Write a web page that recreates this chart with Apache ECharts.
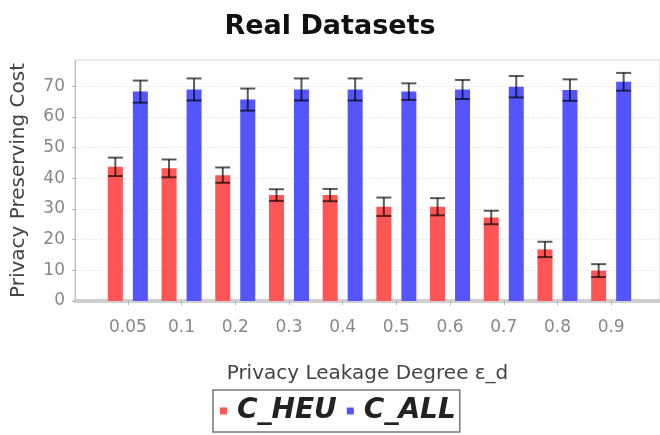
<!DOCTYPE html>
<html>

<head>
    <title>Real Datasets</title>
    <meta http-equiv="content-type" content="text/html; charset=utf-8">
    <script src="https://cdn.jsdelivr.net/npm/echarts@6/dist/echarts.min.js"></script>
    <style type="text/css">
        body { margin: 0; background: #fff; }
        #main { width: 660px; height: 435px; }
    </style>
</head>

<body>
    <div id="main"></div>
    <script type="text/javascript">
        // privacy leakage degree
        var categories = ['0.05', '0.1', '0.2', '0.3', '0.4', '0.5', '0.6', '0.7', '0.8', '0.9'];
        var yTicks = [0, 10, 20, 30, 40, 50, 60, 70];
        // C_HEU mean / error
        var heuMean = [43.7, 43.2, 41.0, 34.5, 34.5, 30.7, 30.7, 27.2, 16.8, 9.9];
        var heuErr = [3.0, 2.9, 2.5, 1.9, 2.0, 3.0, 2.8, 2.2, 2.5, 2.1];
        // C_ALL mean / error
        var allMean = [68.2, 68.9, 65.6, 68.9, 68.9, 68.2, 68.9, 69.8, 68.7, 71.4];
        var allErr = [3.6, 3.6, 3.6, 3.6, 3.6, 2.7, 3.1, 3.5, 3.5, 2.9];

        var font = 'DejaVu Sans';
        var barW = 15, gapPx = 10;
        var yMax = 78.5;

        function errData(mean, err) {
            return mean.map(function (m, i) { return [i, m, err[i]]; });
        }

        // 误差线
        function errorBar(shift) {
            return function (params, api) {
                var i = api.value(0);
                var hi = api.coord([i, api.value(1) + api.value(2)]);
                var lo = api.coord([i, api.value(1) - api.value(2)]);
                var x = hi[0] + shift;
                var half = barW / 2;
                var style = { stroke: 'rgba(0,0,0,0.65)', lineWidth: 2 };
                return {
                    type: 'group',
                    children: [
                        { type: 'line', shape: { x1: x, y1: hi[1], x2: x, y2: lo[1] }, style: style },
                        { type: 'line', shape: { x1: x - half, y1: hi[1], x2: x + half, y2: hi[1] }, style: style },
                        { type: 'line', shape: { x1: x - half, y1: lo[1], x2: x + half, y2: lo[1] }, style: style }
                    ]
                };
            };
        }

        var chart = echarts.init(document.getElementById('main'));

        var option = {
            backgroundColor: '#fff',
            animation: false,
            title: {
                text: 'Real Datasets',
                left: 'center',
                top: 8,
                textStyle: { fontFamily: font, fontSize: 27, fontWeight: 'bold', color: '#111' }
            },
            legend: {
                data: ['C_HEU', 'C_ALL'],
                left: 213,
                top: 390,
                icon: 'rect',
                itemWidth: 7,
                itemHeight: 7,
                itemGap: 10,
                borderColor: '#777',
                borderWidth: 1.5,
                padding: [7, 4, 7, 7],
                textStyle: {
                    fontFamily: font, fontSize: 28, fontWeight: 'bold', fontStyle: 'italic',
                    color: '#222', padding: [0, 0, 0, 5]
                }
            },
            grid: [
                // plot frame
                { left: 75, right: 0, top: 60, bottom: 134, show: true, borderColor: '#cfcfcf', borderWidth: 1, backgroundColor: '#fff' },
                // bars
                { left: 101, right: 22, top: 60, bottom: 134 }
            ],
            xAxis: [
                {
                    gridIndex: 0, type: 'value', min: 0, max: 1,
                    axisLine: { show: true, lineStyle: { color: '#cfcfcf', width: 4 } },
                    axisTick: { show: false }, axisLabel: { show: false }, splitLine: { show: false },
                    name: 'Privacy Leakage Degree \u03b5_d',
                    nameLocation: 'middle',
                    nameGap: 63,
                    nameTextStyle: { fontFamily: font, fontSize: 20, color: '#444' }
                },
                {
                    gridIndex: 1, type: 'category', data: categories,
                    axisLine: { show: false },
                    axisTick: { show: true, alignWithLabel: true, length: 4, lineStyle: { color: '#a8b8a8' } },
                    axisLabel: { margin: 18, fontFamily: font, fontSize: 17, color: '#888' }
                }
            ],
            yAxis: [
                {
                    gridIndex: 0, type: 'value', min: 0, max: yMax, interval: 10,
                    axisLine: { show: true, lineStyle: { color: '#bbb' } },
                    axisTick: { show: true, length: 3, lineStyle: { color: '#bbb' } },
                    axisLabel: {
                        margin: 10, fontFamily: font, fontSize: 17, color: '#888', showMaxLabel: false,
                        formatter: function (v) { return yTicks.indexOf(v) >= 0 ? String(v) : ''; }
                    },
                    splitLine: { show: true, lineStyle: { color: '#ececec', type: 'dashed' } },
                    name: 'Privacy Preserving Cost',
                    nameLocation: 'middle',
                    nameGap: 46,
                    nameTextStyle: { fontFamily: font, fontSize: 20, color: '#444' }
                },
                { gridIndex: 1, type: 'value', min: 0, max: yMax, show: false }
            ],
            series: [
                {
                    name: 'C_HEU', type: 'bar', xAxisIndex: 1, yAxisIndex: 1,
                    barWidth: barW, barGap: (gapPx / barW * 100) + '%',
                    itemStyle: { color: '#ff5555' },
                    data: heuMean
                },
                {
                    name: 'C_ALL', type: 'bar', xAxisIndex: 1, yAxisIndex: 1,
                    barWidth: barW,
                    itemStyle: { color: '#5555ff' },
                    data: allMean
                },
                {
                    type: 'custom', xAxisIndex: 1, yAxisIndex: 1, z: 5,
                    renderItem: errorBar(-(barW + gapPx) / 2),
                    data: errData(heuMean, heuErr)
                },
                {
                    type: 'custom', xAxisIndex: 1, yAxisIndex: 1, z: 5,
                    renderItem: errorBar((barW + gapPx) / 2),
                    data: errData(allMean, allErr)
                }
            ]
        };
        chart.setOption(option);
    </script>
</body>

</html>
